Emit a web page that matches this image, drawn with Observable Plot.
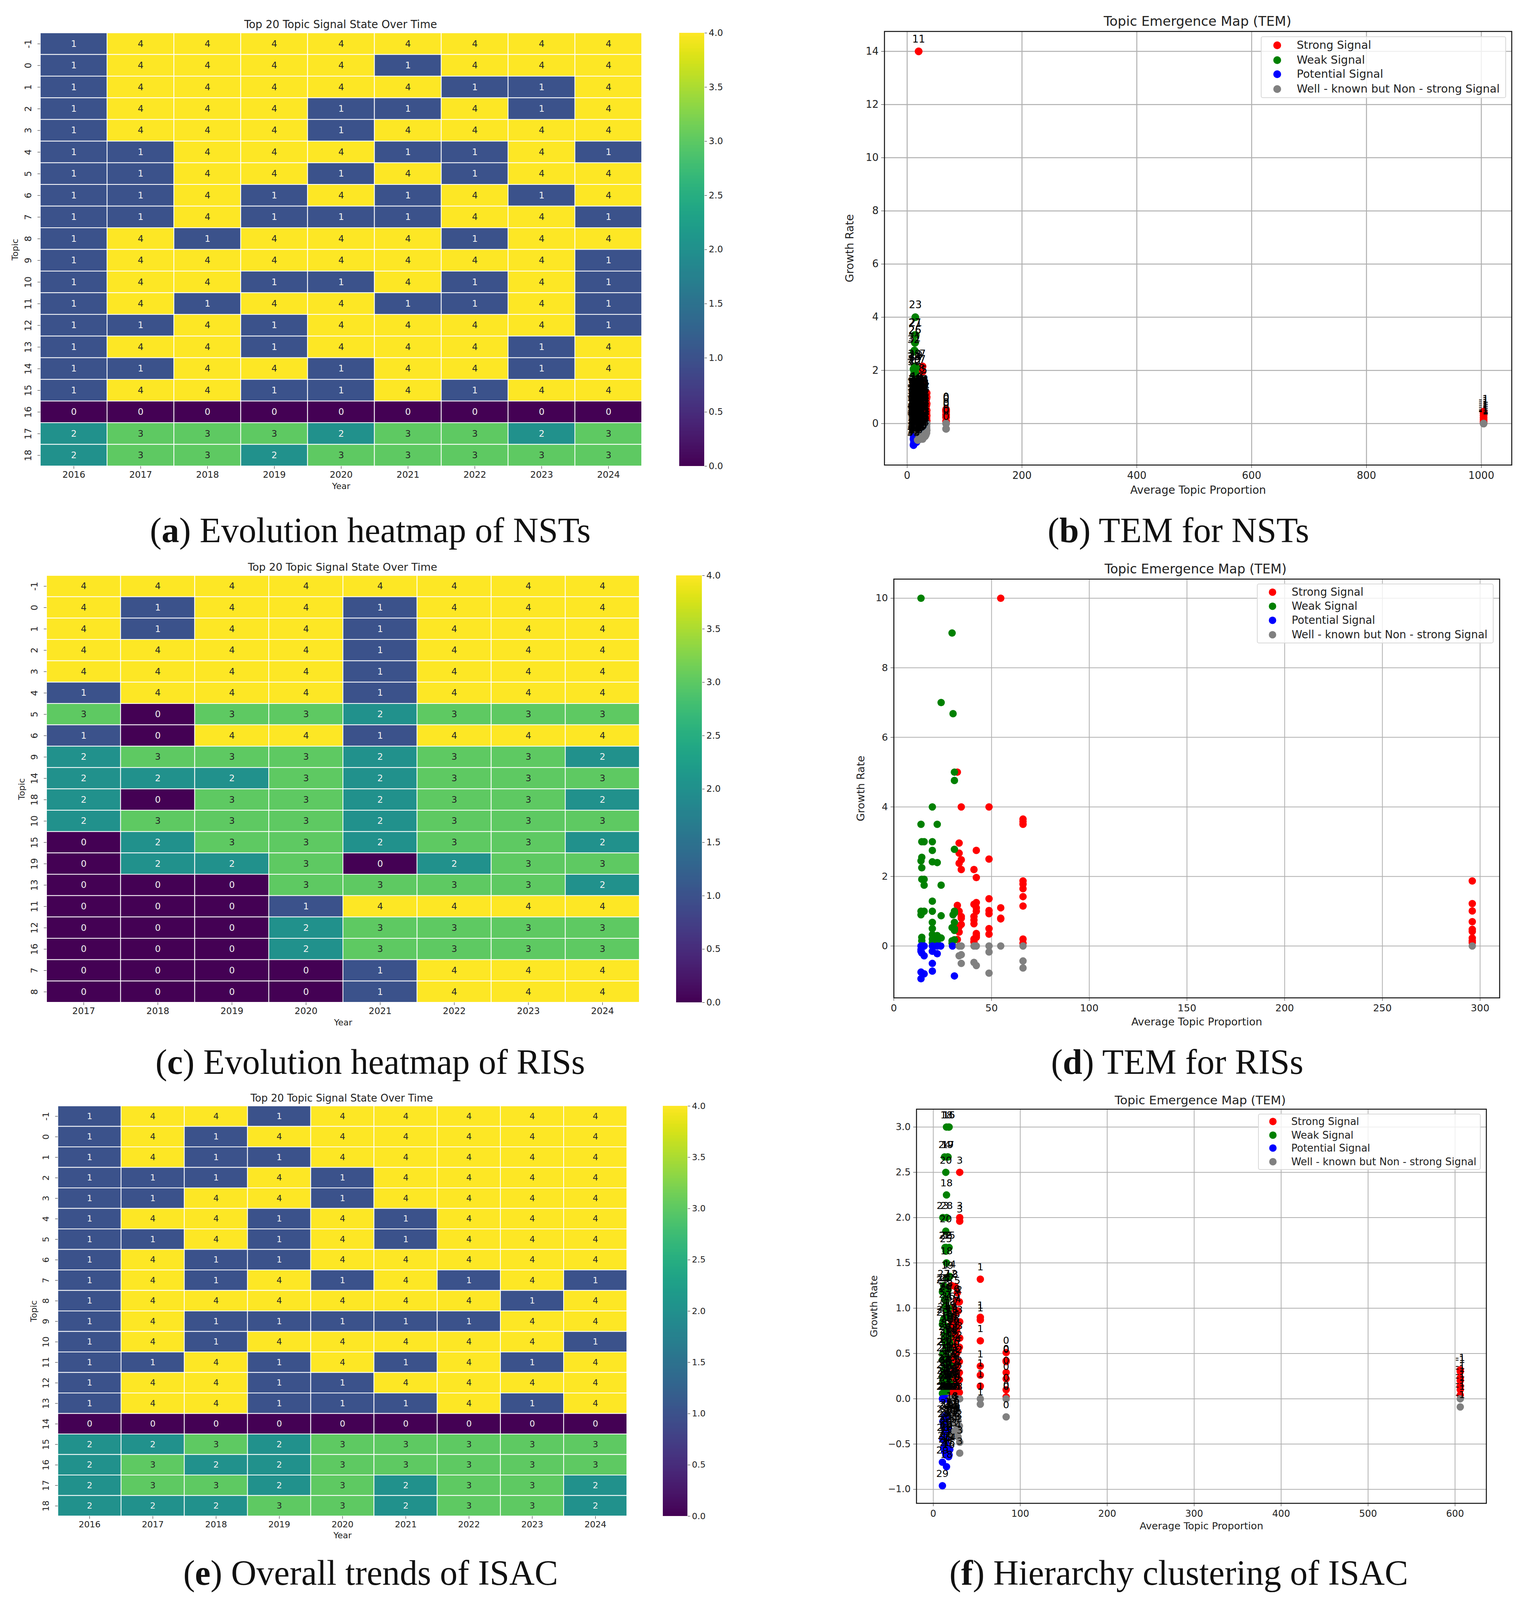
<!DOCTYPE html>
<html><head><meta charset="utf-8">
<script src="https://cdn.jsdelivr.net/npm/d3@7"></script>
<script src="https://cdn.jsdelivr.net/npm/@observablehq/plot@0.6"></script>
<style>
html,body{margin:0;padding:0;background:#fff;overflow:hidden;}
#page{position:relative;width:3907px;overflow:hidden;font-family:"DejaVu Sans",sans-serif;color:#222;}
#page>svg{position:absolute;overflow:visible;}
.t{position:absolute;white-space:nowrap;transform:translate(-50%,-50%);line-height:1;}
.cap{font-family:"Liberation Serif",serif;color:#111;}
.leg{position:absolute;box-sizing:border-box;background:rgba(255,255,255,.8);border:2px solid #d8d8d8;border-radius:5px;}
.sw{position:absolute;border-radius:50%;transform:translate(-50%,-50%);}
</style></head><body><div id="page"></div>
<script>
const yearsA=["2016","2017","2018","2019","2020","2021","2022","2023","2024"];
const topicsA=["-1","0","1","2","3","4","5","6","7","8","9","10","11","12","13","14","15","16","17","18"];
const statesA=[
[1,4,4,4,4,4,4,4,4],[1,4,4,4,4,1,4,4,4],[1,4,4,4,4,4,1,1,4],[1,4,4,4,1,1,4,1,4],[1,4,4,4,1,4,4,4,4],
[1,1,4,4,4,1,1,4,1],[1,1,4,4,1,4,1,4,4],[1,1,4,1,4,1,4,1,4],[1,1,4,1,1,1,4,4,1],[1,4,1,4,4,4,1,4,4],
[1,4,4,4,4,4,4,4,1],[1,4,4,1,1,4,1,4,1],[1,4,1,4,4,1,1,4,1],[1,1,4,1,4,4,4,4,1],[1,4,4,1,4,4,4,1,4],
[1,1,4,4,1,4,4,1,4],[1,4,4,1,1,4,1,4,4],[0,0,0,0,0,0,0,0,0],[2,3,3,3,2,3,3,2,3],[2,3,3,2,3,3,3,3,3]];
const yearsC=["2017","2018","2019","2020","2021","2022","2023","2024"];
const topicsC=["-1","0","1","2","3","4","5","6","9","14","18","10","15","19","13","11","12","16","7","8"];
const statesC=[
[4,4,4,4,4,4,4,4],[4,1,4,4,1,4,4,4],[4,1,4,4,1,4,4,4],[4,4,4,4,1,4,4,4],[4,4,4,4,1,4,4,4],
[1,4,4,4,1,4,4,4],[3,0,3,3,2,3,3,3],[1,0,4,4,1,4,4,4],[2,3,3,3,2,3,3,2],[2,2,2,3,2,3,3,3],
[2,0,3,3,2,3,3,2],[2,3,3,3,2,3,3,3],[0,2,3,3,2,3,3,2],[0,2,2,3,0,2,3,3],[0,0,0,3,3,3,3,2],
[0,0,0,1,4,4,4,4],[0,0,0,2,3,3,3,3],[0,0,0,2,3,3,3,3],[0,0,0,0,1,4,4,4],[0,0,0,0,1,4,4,4]];
const yearsE=yearsA;
const topicsE=topicsA;
const statesE=[
[1,4,4,1,4,4,4,4,4],[1,4,1,4,4,4,4,4,4],[1,4,1,1,4,4,4,4,4],[1,1,1,4,1,4,4,4,4],[1,1,4,4,1,4,4,4,4],
[1,4,4,1,4,1,4,4,4],[1,1,4,1,4,1,4,4,4],[1,4,1,1,4,4,4,4,4],[1,4,1,4,1,4,1,4,1],[1,4,4,4,4,4,4,1,4],
[1,4,1,1,1,1,1,4,4],[1,4,1,4,4,4,4,4,1],[1,1,4,1,4,1,4,1,4],[1,4,4,1,1,4,4,4,4],[1,4,4,1,1,1,4,1,4],
[0,0,0,0,0,0,0,0,0],[2,2,3,2,3,3,3,3,3],[2,3,2,2,3,3,3,3,3],[2,3,3,2,3,2,3,3,2],[2,2,2,3,3,2,3,3,2]];
const colorTicks=[0,.5,1,1.5,2,2.5,3,3.5,4];

const signalNames=["Strong Signal","Weak Signal","Potential Signal","Well - known but Non - strong Signal"];
const signalColors=["red","green","blue","gray"];

// topic, average proportion, yearly growth rates
const nstTopics=[
[-1,1004,[.45,.38,.3,.22,.15,.08,.03,0]],
[0,67.8,[.53,.5,.45,.33,.24,.08,0,-.2]],
[1,34,[1.15,1,.75,.5,.3,.1,0,-.25]],
[2,33.6,[.95,.7,.4,.2,0,-.1,-.35,-.18]],
[3,32.5,[1.05,.85,.62,.42,.15,0,-.3,-.42]],
[4,31,[1.2,.9,.66,.35,.12,0,-.15,-.48]],
[5,29.5,[1.55,1.1,.8,.55,.28,0,-.25,-.5]],
[6,28,[1.3,.98,.7,.4,.18,-.08,-.4,-.52]],
[7,26.8,[2.15,1.95,.85,.6,.25,0,-.3,-.58]],
[8,25.5,[1.6,1,.78,.5,.22,.05,-.2,-.45]],
[9,24.5,[1.2,.95,.68,.45,.1,-.1,-.3,-.5]],
[10,23.5,[1.1,.88,.72,.38,.16,0,-.22,-.55]],
[11,20,[14,1,.82,.52,.3,.06,-.18,-.35]],
[12,22,[1.15,.9,.76,.44,.2,0,-.26,-.42]],
[13,21,[1.05,.92,.58,.33,.13,-.04,-.2,-.6]],
[14,19.5,[1.1,.88,.64,.36,.08,0,-.16,-.38]],
[15,18.4,[1.15,.96,.7,.41,.19,-.06,-.32,-.62]],
[16,17.2,[1.3,1.02,.83,.47,.21,0,-.3,-.55]],
[17,16.6,[1.2,1,.74,.39,.11,-.02,-.34,-.64]],
[18,16,[1.1,.95,.66,.31,.09,0,-.24,-.7]],
[19,15.6,[2.1,1.05,.87,.53,.17,0,-.28,-.5]],
[20,15.2,[1.25,1.02,.69,.37,.14,-.03,-.36,-.58]],
[21,15,[3.33,1.1,.9,.46,.2,0,-.18,-.42]],
[22,14.6,[1.9,1.08,.79,.49,.23,0,-.3,-.6]],
[23,14.2,[4,1.2,1,.56,.26,.05,-.22,-.52]],
[24,14,[2.05,1.1,.73,.4,.12,0,-.4,-.66]],
[25,13.8,[3.04,1.15,.95,.5,.18,-.05,-.33,-.48]],
[26,13.4,[3.04,1.05,.86,.43,.15,0,-.25,-.56]],
[27,13.2,[3.33,1.1,.8,.42,.1,-.02,-.3,-.62]],
[28,12.8,[2.15,1.02,.71,.34,.07,0,-.2,-.46]],
[29,12.4,[1.95,1.05,.65,.29,.1,-.08,-.38,-.72]],
[30,12,[1.85,1.1,.6,.32,.05,0,-.44,-.68]],
[31,12.7,[2.75,1.2,.84,.47,.16,0,-.26,-.54]],
[32,11.6,[2.7,1.1,.77,.38,.13,-.04,-.5,-.76]],
[33,11.1,[2.05,1.05,.67,.27,.06,0,-.58,-.81]]
];
const nstStrongFrom=18;

const isacTopics=[
[-1,606,[.32,.3,.23,.2,.14,.1,.04,0,-.09]],
[0,83.8,[.51,.42,.41,.29,.22,.1,.02,0,-.2]],
[1,54.1,[1.32,.9,.87,.64,.36,.26,.14,0,-.06]],
[2,30,[1.07,.57,.41,.29,.21,.07,-.3,-.35]],
[3,30.4,[2.5,2,1.96,.85,.67,0,-.48,-.6]],
[4,28.5,[1.07,.97,.53,.27,.12,0,-.24,-.42]],
[5,27.6,[1.17,.8,.68,.38,.18,0,-.2,-.33]],
[6,26.8,[1.08,.75,.5,.34,.1,0,-.15,-.3]],
[7,26,[.95,.7,.55,.3,.13,0,-.14,-.28]],
[8,25,[1.24,.85,.65,.4,.2,.05,-.1,-.22]],
[9,24,[.88,.78,.6,.33,.16,0,-.12,-.36]],
[10,23,[1,.72,.47,.24,.11,0,-.18,-.25]],
[11,22,[.86,.63,.44,.28,.09,0,-.1,-.19]],
[12,21,[1.25,.82,.58,.36,.15,.03,0,-.27]],
[13,20,[.76,.6,.43,.2,.13,0,-.16,-.4]],
[14,19,[1.35,.92,.62,.37,.17,0,-.26,-.56]],
[15,18.2,[3,1.67,.9,.55,.25,0,-.35,-.62]],
[16,17.6,[3,1,.68,.4,.14,0,-.3,-.64]],
[17,17,[2.67,1.2,.72,.36,.13,0,-.25,-.6]],
[18,15.2,[3,2.25,1.5,.8,.3,0,-.42,-.75]],
[19,16.3,[2.67,1.34,.78,.46,.2,0,-.2,-.55]],
[20,14.4,[2.5,1.85,1.1,.63,.27,0,-.38,-.62]],
[21,14,[1.2,.9,.6,.35,.12,0,-.28,-.5]],
[22,13.5,[1.67,1.02,.7,.43,.16,0,-.36,-.52]],
[23,11,[2,1.2,.85,.5,.18,0,-.25,-.45]],
[24,13,[2.67,1.1,.66,.31,.1,0,-.2,-.58]],
[25,14.6,[1.63,1.08,.56,.26,.13,0,-.33,-.48]],
[26,14.8,[1.67,.98,.52,.22,.08,0,-.22,-.4]],
[27,12,[1.25,.88,.5,.32,.14,0,-.3,-.54]],
[28,15.4,[2,1.14,.75,.43,.13,0,-.18,-.44]],
[29,10.5,[1.18,.82,.43,.24,.06,0,-.7,-.96]]
];
const isacStrongFrom=20;

// RIS map has no point labels: x, then growth rates, one list per signal
const risStrong=[[54.7,[10,1.1,.8,.78]],[32.5,[5,1.17,.19]],[34.5,[4,2.48,2.2,.85,.8,.62]],[33.4,[2.96,2.67,2.38,1,.55,.4]],
[48.7,[4,2.5,1.36,1.02,.93,.5,.34]],[42.2,[2.75,1.97,1.25,1.1,1,.36,.3,.25]],[41,[2.2,1.2,.85,.75,.64,.2,.12]],
[66.1,[3.65,3.58,3.5,1.87,1.78,1.65,1.42,1.15,.2,.08]],[296,[1.87,1.22,1.01,.7,.48,.42,.23,.15,.1]]];
const risWeak=[[13.9,[10,3.5,2.45,1,.9]],[14.3,[3,2.55,2.25,1.92,.25,.15]],[15.5,[3,1.92,1.75,1]],
[19.7,[4,3,2.75,2.42,1.29,1,.68,.5,.33,.2,.1]],[22.2,[3.5,2.4,.3,.2,.1]],[24.2,[7,1.75,.87,.23]],
[29.8,[9,.53,.15,.08]],[30.3,[6.68,.9]],[31,[5,4.76,2.78,1,.95,.68,.5,.45,.18]]];
const risPotential=[[13.9,[0,-.1,-.15,-.75,-.94]],[14.3,[0,-.2]],[15.5,[0,-.28,-.8]],[19.7,[0,-.15,-.5,-.72]],
[22.2,[0,-.22]],[24,[0]],[30,[0]],[31,[-.86]]];
const risKnown=[[33.4,[0,-.28]],[34.5,[0,-.25,-.5]],[41,[0,-.47]],[42.2,[0,-.56]],[48.7,[0,-.17,-.78]],[54.7,[0]],[66.1,[0,-.43,-.63]],[296,[0]]];

// the window may be shorter than the 4713px reference: fit the layout's height to it
const fullH=4713;
const ky=Math.min(1,(window.innerHeight||fullH)/fullH);
const Y=v=>Math.round(v*ky);

const page=document.getElementById("page");
page.style.height=Y(fullH)+"px";
function put(node,left,top){node.style.left=left+"px";node.style.top=top+"px";page.appendChild(node);}
function txt(s,cx,cy,size,cls){const d=document.createElement("div");d.className="t "+(cls||"");d.style.left=cx+"px";d.style.top=Y(cy)+"px";d.style.fontSize=size+"px";d.innerHTML=s;page.appendChild(d);return d;}
const CAP=90;
function caption(letter,rest,cx,cy){txt("("+"<b>"+letter+"</b>) "+rest,cx,cy,CAP,"cap");}
function axisLabelSize(svg,size){svg.querySelectorAll('g[aria-label$="axis label"]').forEach(g=>{g.setAttribute("font-size",size);g.querySelectorAll("text").forEach(t=>t.setAttribute("font-size",size));});}

function heat(c){
  const rows=c.states.flatMap((r,i)=>r.map((v,j)=>({topic:c.topics[i],year:c.years[j],value:v})));
  const ml=120,mb=90,mt=10,mr=10,sz=c.font,top=Y(c.t),bottom=Y(c.b);
  const p=Plot.plot({
    width:c.r-c.l+ml+mr,height:bottom-top+mt+mb,marginLeft:ml,marginRight:mr,marginTop:mt,marginBottom:mb,
    style:{fontFamily:"DejaVu Sans",fontSize:sz+"px",background:"transparent",color:"#222"},
    x:{domain:c.years,padding:0,round:false},y:{domain:c.topics,padding:0,round:false},
    color:{type:"linear",scheme:"viridis",domain:[0,4]},
    marks:[
      Plot.cell(rows,{x:"year",y:"topic",fill:"value",stroke:"white",strokeWidth:2}),
      Plot.text(rows.filter(d=>d.value<3),{x:"year",y:"topic",text:"value",fill:"#f2f2f2",fontSize:sz}),
      Plot.text(rows.filter(d=>d.value>=3),{x:"year",y:"topic",text:"value",fill:"#262626",fontSize:sz}),
      Plot.axisX({label:"Year",labelAnchor:"center",labelArrow:"none",labelOffset:c.xlo,tickSize:7,tickPadding:6,fontSize:sz}),
      Plot.axisY({label:"Topic",labelAnchor:"center",labelArrow:"none",labelOffset:c.ylo,tickSize:7,tickPadding:17,tickRotate:-90,fontSize:sz})
    ]});
  axisLabelSize(p,22);
  put(p,c.l-ml,top-mt);
  const bins=d3.range(0,4,0.01);
  const bar=Plot.plot({
    width:c.cr-c.cl+90,height:bottom-top+20,marginLeft:0,marginRight:90,marginTop:10,marginBottom:10,
    style:{fontFamily:"DejaVu Sans",fontSize:sz+"px",background:"transparent",color:"#222"},
    x:{domain:[0,1],axis:null},y:{domain:[0,4]},
    color:{type:"linear",scheme:"viridis",domain:[0,4]},
    marks:[
      Plot.rect(bins,{x1:0,x2:1,y1:d=>d,y2:d=>Math.min(4,d+0.02),fill:d=>d,shapeRendering:"crispEdges"}),
      Plot.axisY({anchor:"right",ticks:colorTicks,tickFormat:d3.format(".1f"),tickSize:6,tickPadding:5,label:null,fontSize:sz})
    ]});
  put(bar,c.cl,top-10);
  txt(c.title,c.tx,c.ty,c.titleSize);
}

function toRows(list,name){return list.flatMap(([x,ys])=>ys.map(y=>({x,y,signal:name})));}
function labelled(list,from){return list.flatMap(([topic,x,ys])=>ys.map(y=>({topic,x,y,signal:y>0?(x>=from?signalNames[0]:signalNames[1]):(x>=from?signalNames[3]:signalNames[2])})));}

function scatter(c){
  const ml=150,mb=110,mt=20,mr=20,top=Y(c.t),bottom=Y(c.b);
  const marks=[Plot.gridX({ticks:c.xt,stroke:"#b0b0b0",strokeOpacity:1,strokeWidth:c.grid}),
               Plot.gridY({ticks:c.yt,stroke:"#b0b0b0",strokeOpacity:1,strokeWidth:c.grid})];
  signalNames.forEach((n,i)=>marks.push(Plot.dot(c.rows.filter(d=>d.signal===n),{x:"x",y:"y",r:c.r_,fill:signalColors[i]})));
  if(c.rows[0].topic!==undefined) marks.push(Plot.text(c.rows,{x:"x",y:"y",text:"topic",dy:-c.dy*ky,fill:"#000",fontSize:c.lab}));
  marks.push(Plot.frame({stroke:"#111",strokeWidth:2.5}));
  marks.push(Plot.axisX({ticks:c.xt,tickFormat:d=>String(d),label:"Average Topic Proportion",labelAnchor:"center",labelArrow:"none",labelOffset:c.xlo,tickSize:8,tickPadding:9,fontSize:c.font}));
  marks.push(Plot.axisY({ticks:c.yt,tickFormat:c.yf,label:"Growth Rate",labelAnchor:"center",labelArrow:"none",labelOffset:c.ylo,tickSize:8,tickPadding:7,fontSize:c.font}));
  const p=Plot.plot({
    width:c.fr-c.l+ml+mr,height:bottom-top+mt+mb,marginLeft:ml,marginRight:mr,marginTop:mt,marginBottom:mb,
    style:{fontFamily:"DejaVu Sans",fontSize:c.font+"px",background:"transparent",color:"#222"},
    x:{domain:c.xd,round:false},y:{domain:c.yd,round:false},
    marks});
  axisLabelSize(p,c.ls);
  put(p,c.l-ml,top-mt);
  txt(c.title,c.tx,c.ty,c.titleSize);
  const g=c.leg,box=document.createElement("div");box.className="leg";
  box.style.left=g.l+"px";box.style.top=Y(g.t)+"px";box.style.width=(g.r-g.l)+"px";box.style.height=(Y(g.b)-Y(g.t))+"px";page.appendChild(box);
  signalNames.forEach((n,i)=>{
    const s=document.createElement("div");s.className="sw";s.style.left=g.mx+"px";s.style.top=Y(g.ys[i])+"px";
    s.style.width=s.style.height=(c.r_*2)+"px";s.style.background=signalColors[i];page.appendChild(s);
    const d=txt(n,g.tx,g.ys[i],g.size);d.style.transform="translate(0,-50%)";
  });
}

const heatTitle="Top 20 Topic Signal State Over Time";
const temTitle="Topic Emergence Map (TEM)";
heat({states:statesA,topics:topicsA,years:yearsA,l:103,r:1643,t:97,b:1373,cl:1739,cr:1803,font:23,xlo:58,ylo:73,title:heatTitle,tx:872,ty:72,titleSize:27.5});
heat({states:statesC,topics:topicsC,years:yearsC,l:119,r:1637,t:1695,b:2952,cl:1731,cr:1797,font:23,xlo:58,ylo:72,title:heatTitle,tx:877,ty:1670,titleSize:27});
heat({states:statesE,topics:topicsE,years:yearsE,l:148,r:1605,t:3258,b:4466,cl:1697,cr:1760,font:22,xlo:56,ylo:70,title:heatTitle,tx:875,ty:3234,titleSize:26});

scatter({rows:labelled(nstTopics,nstStrongFrom),l:2264,fr:3870,t:92,b:1369,xd:[-39.5,1053],yd:[-1.56,14.75],xt:[0,200,400,600,800,1000],yt:[0,2,4,6,8,10,12,14],yf:d=>String(d),
  r_:10,dy:36,lab:26,font:26,ls:28,grid:2.5,xlo:73,ylo:99,title:temTitle,tx:3066,ty:62,titleSize:34,
  leg:{l:3228,r:3856,t:107,b:289,mx:3270,tx:3320,ys:[133,177,219,262],size:28.5}});
scatter({rows:[...toRows(risStrong,signalNames[0]),...toRows(risWeak,signalNames[1]),...toRows(risPotential,signalNames[2]),...toRows(risKnown,signalNames[3])],
  l:2288,fr:3839,t:1705,b:2939,xd:[0,310],yd:[-1.49,10.55],xt:[0,50,100,150,200,250,300],yt:[0,2,4,6,8,10],yf:d=>String(d),
  r_:9.5,dy:0,lab:0,font:25,ls:27,grid:2,xlo:70,ylo:95,title:temTitle,tx:3061,ty:1675,titleSize:33,
  leg:{l:3218,r:3824,t:1719,b:1895,mx:3258,tx:3307,ys:[1744,1786,1827,1870],size:27.5}});
scatter({rows:labelled(isacTopics,isacStrongFrom),l:2346,fr:3805,t:3267,b:4428,xd:[-19.3,636],yd:[-1.154,3.197],xt:[0,100,200,300,400,500,600],yt:[-1,-.5,0,.5,1,1.5,2,2.5,3],yf:d3.format(".1f"),
  r_:9.5,dy:35,lab:25,font:24,ls:25.5,grid:2,xlo:66,ylo:119,title:temTitle,tx:3073,ty:3240,titleSize:31,
  leg:{l:3221,r:3791,t:3280,b:3446,mx:3259,tx:3306,ys:[3304,3344,3382,3422],size:26}});

caption("a","Evolution heatmap of NSTs",948,1563);
caption("b","TEM for NSTs",3017,1563);
caption("c","Evolution heatmap of RISs",948,3129);
caption("d","TEM for RISs",3014,3129);
caption("e","Overall trends of ISAC",949,4634);
caption("f","Hierarchy clustering of ISAC",3018,4634);
</script></body></html>
